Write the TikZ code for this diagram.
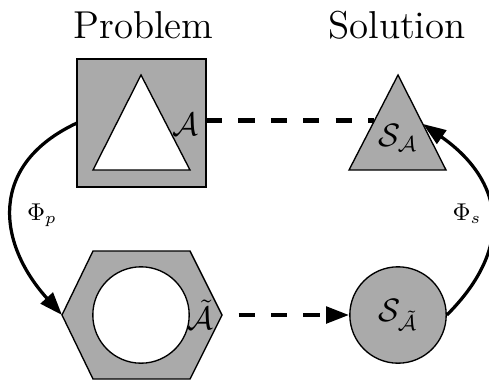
\documentclass[tikz,border=0pt]{standalone}
\usepackage{amsmath,amssymb}
\usepackage{tikz}
\usetikzlibrary{arrows.meta,positioning}
\definecolor{GrisMedio}{HTML}{AAAAAA}

\begin{document}
\begin{tikzpicture}[
  x=0.3704pt,y=-0.3704pt,
  >={Triangle[length=8.5pt,width=6pt]},
  title/.style={font=\Large,anchor=base},
  tag/.style={font=\large},
  block/.style={draw=black,fill=GrisMedio,line width=0.5pt},
  hole/.style={draw=black,fill=white,line width=0.5pt},
  link/.style={line width=1.6pt,dash pattern=on 6pt off 6pt},
  map/.style={->,line width=1.2pt},
  mapname/.style={font=\small}
]
  \useasboundingbox (0,0) rectangle (489,379);

  % Problema: cuadrado con triangulo y hexagono con hueco.
  \node[title] (tituloP) at (143.5,38) {Problem};
  \node[block,minimum width=47.8pt,minimum height=47.4pt,inner sep=0pt,outer sep=0pt] (problema) at (141.5,123) {};
  \draw[hole] (141,75) -- (190,170) -- (93,170) -- cycle;
  \node[tag] (lblA) at (185,124) {$\mathcal{A}$};

  \draw[block] (62,315) -- (93,251) -- (190,251) -- (222,315) -- (190,379) -- (93,379) -- cycle;
  \coordinate (hexIzq) at (62,315);
  \node[hole,circle,minimum size=35.7pt,inner sep=0pt] (hueco) at (141,315) {};
  \node[tag] (lblAt) at (200,315) {$\tilde{\mathcal{A}}$};

  % Solucion: triangulo y circulo.
  \node[title] (tituloS) at (397,38) {Solution};
  \draw[block] (398,75) -- (446,170) -- (349,170) -- cycle;
  \node[tag] (solA) at (398,138) {$\mathcal{S}_{\mathcal{A}}$};
  \coordinate (solAizq) at (374,120.5);
  \coordinate (solAder) at (423,124);
  \node[block,circle,minimum size=35.7pt,inner sep=0pt,font=\large] (solAt) at (398,315) {$\mathcal{S}_{\tilde{\mathcal{A}}}$};

  % Conectores.
  \draw[link] (problema.east |- solAizq) -- (solAizq);
  \draw[link,->,shorten <=6pt] (lblAt.east) -- (solAt.west);
  \draw[map] (problema.west) to[out=205,in=132,looseness=1.3] (hexIzq);
  \draw[map] (solAt.east) to[out=45,in=-35,looseness=1.3] (solAder);
  \node[mapname] (phiP) at (42,215) {$\Phi_p$};
  \node[mapname] (phiS) at (467,214) {$\Phi_s$};
\end{tikzpicture}
\end{document}
